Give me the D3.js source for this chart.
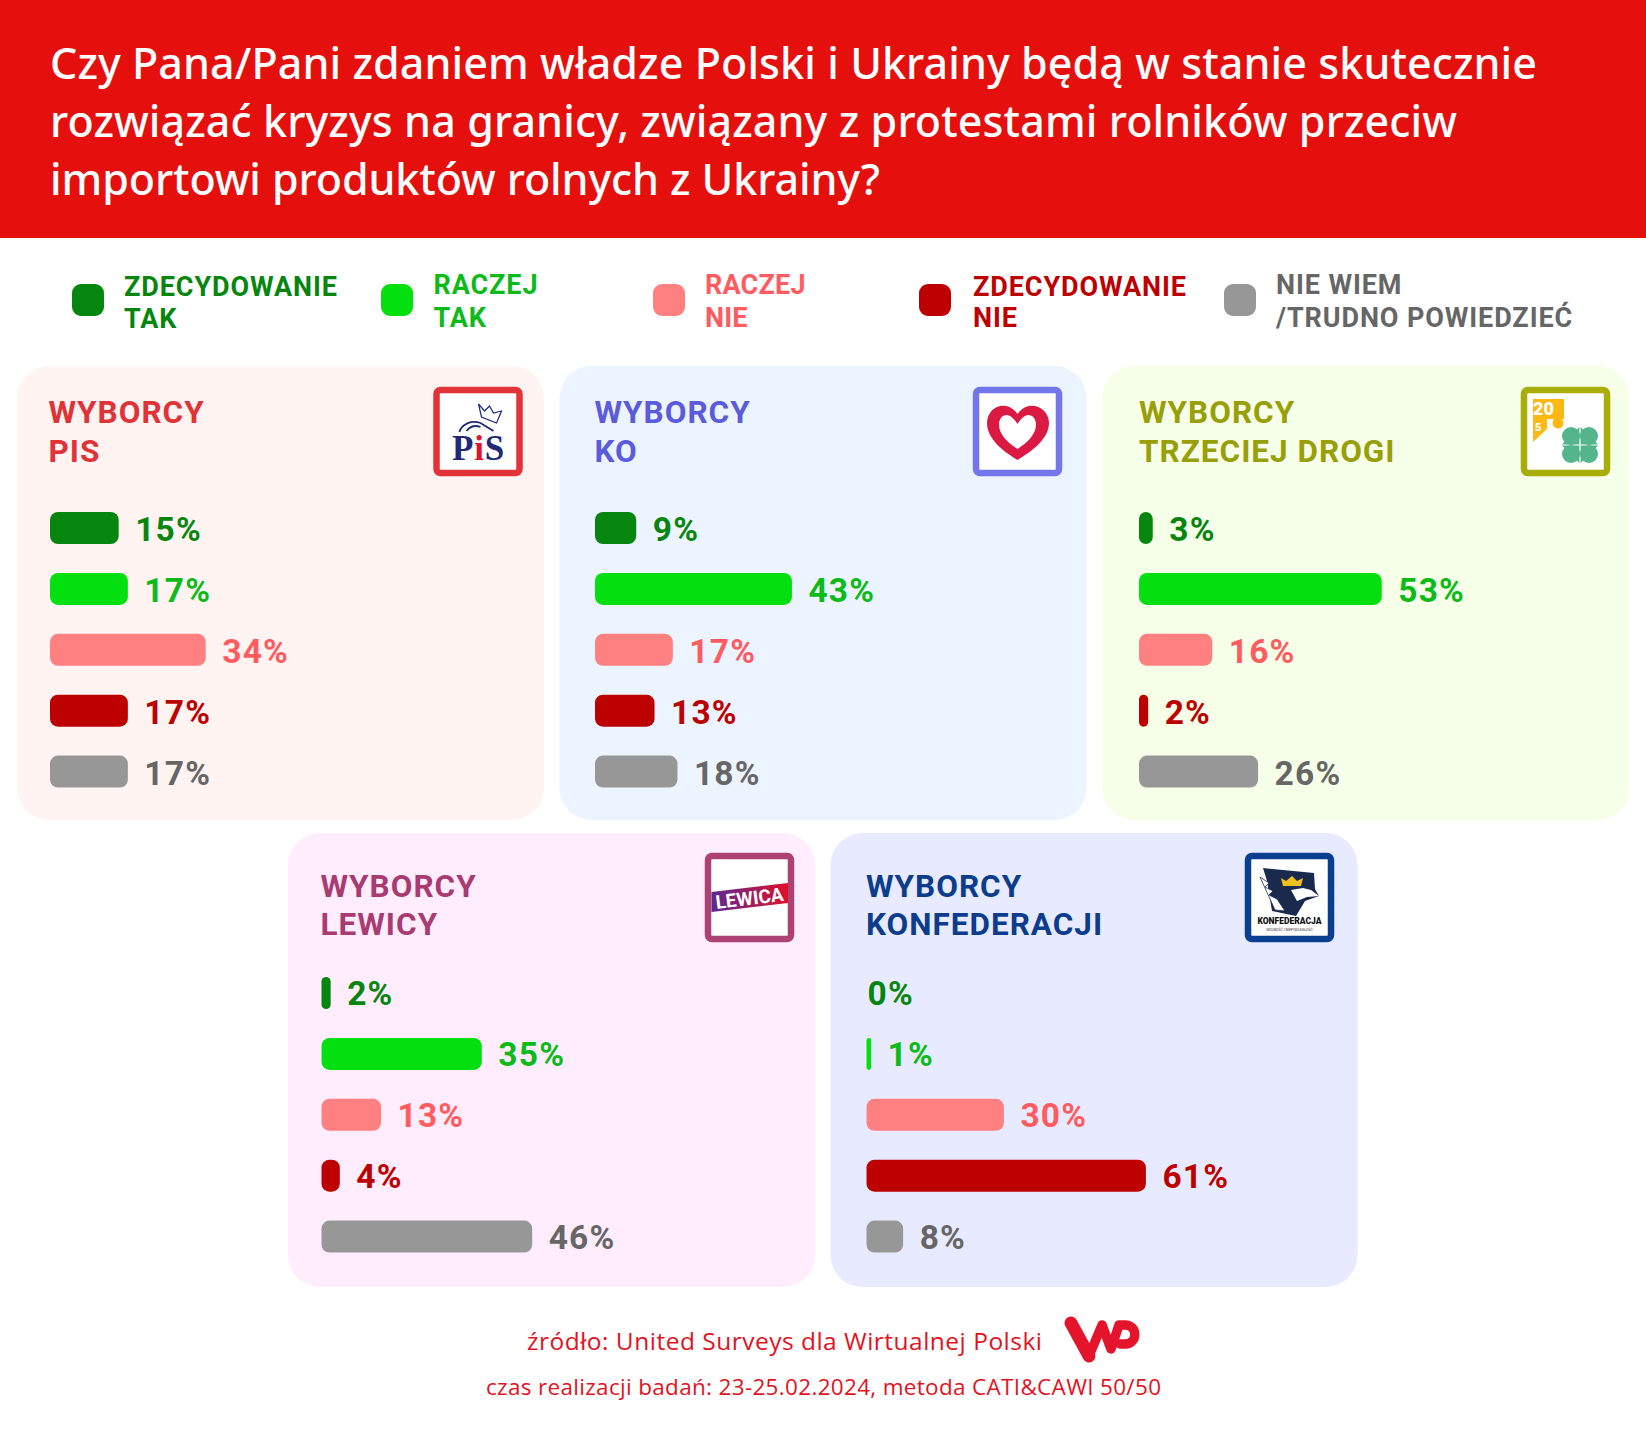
<!DOCTYPE html>
<html lang="pl"><head><meta charset="utf-8">
<script src="https://cdn.jsdelivr.net/npm/d3@7/dist/d3.min.js"></script>
<style>html,body{margin:0;padding:0;background:#fff}svg{display:block}</style>
</head><body><svg id="c" width="1646" height="1440"></svg>
<script>
const titleLines = ["Czy Pana/Pani zdaniem władze Polski i Ukrainy będą w stanie skutecznie",
  "rozwiązać kryzys na granicy, związany z protestami rolników przeciw",
  "importowi produktów rolnych z Ukrainy?"];
const answers = [["ZDECYDOWANIE","TAK"],["RACZEJ","TAK"],["RACZEJ","NIE"],["ZDECYDOWANIE","NIE"],["NIE WIEM","/TRUDNO POWIEDZIEĆ"]];
const barColors = ["#07860f","#04df0f","#ff8080","#bd0000","#979797"];
const textColors = ["#07860f","#0cbb18","#ff5b60","#bd0000","#666666"];
const groups = [["WYBORCY","PIS"],["WYBORCY","KO"],["WYBORCY","TRZECIEJ DROGI"],["WYBORCY","LEWICY"],["WYBORCY","KONFEDERACJI"]];
const valuesPis = [15,17,34,17,17];
const valuesKo = [9,43,17,13,18];
const valuesTd = [3,53,16,2,26];
const valuesLewica = [2,35,13,4,46];
const valuesKonf = [0,1,30,61,8];
const groupValues = [valuesPis,valuesKo,valuesTd,valuesLewica,valuesKonf];
const panelFills = ["#fff4f2","#ecf4ff","#f6ffe8","#ffedfe","#e8ebff"];
const headColors = ["#e03338","#5b5bdc","#989f08","#a83c72","#0c3c8c"];
const frameColors = ["#e23438","#7276ea","#a9ad0a","#ab4273","#0a3f90"];
const sources = ["źródło: United Surveys dla Wirtualnej Polski","czas realizacji badań: 23-25.02.2024, metoda CATI&CAWI 50/50"];

// layout
const panelX = [17,559.5,1102.5,288,830.5], panelY = [366,366,366,833,833];
const panelW = 527, panelH = 454;
const barX = [50,595,1139,321.5,866.5], logoX = [433.5,973,1521,705,1245];
const legendSw = [72,381,653,919,1224], legendTx = [124,433.5,705,973,1276];
const legendBase = [[296,328],[294,326.5],[294,326.5],[295.5,326.5],[294,326.5]];
const x = d3.scaleLinear().domain([0,100]).range([0,458]);
const y = d3.scaleBand().domain(d3.range(5)).range([0,275.6]).paddingInner(0.4745).paddingOuter(0);

const ff="Roboto";
function logoPis(g){
  g.append("path").attr("d","M26 45 C28 37 38 33 47 36 L60 44 M33 44 C37 39 42 38 47 40").attr("fill","none").attr("stroke","#1e2a78").attr("stroke-width",1.8);
  g.append("path").attr("d","M45 17 L51 24 L56 19 L60 26 L68 24 L63 36 L48 30 Z").attr("fill","none").attr("stroke","#1e2a78").attr("stroke-width",1.2);
  const t=g.append("text").attr("x",45).attr("y",73).attr("text-anchor","middle").attr("font-family","'Liberation Serif'").attr("font-weight",700).attr("font-size",35).attr("letter-spacing",0.8);
  t.append("tspan").attr("fill","#1e2a78").text("P");
  t.append("tspan").attr("fill","#e0142c").text("i");
  t.append("tspan").attr("fill","#1e2a78").text("S");
}
function logoKo(g){
  g.append("path").attr("d","M44.5 73 C30 64 14 52 14 36 C14 24 24 17 33 19 C38 20 42 23 44.5 27 C47 23 51 20 56 19 C65 17 76 24 76 36 C76 52 59 64 44.5 73 Z M44.5 62 C54 56 63 47 63 38 C63 32 60 28 55 28 C50 29 47 33 44.5 37 C42 33 39 29 34 28 C29 28 26 32 26 38 C26 47 35 56 44.5 62 Z")
   .attr("fill","#da1a43").attr("fill-rule","evenodd");
}
function logoTd(g){
  g.append("path").attr("d","M12 12 L43 12 L43 32 L26 32 L26 42 L12 55 Z").attr("fill","#fdb813");
  g.append("text").attr("x",12).attr("y",28).attr("font-family",ff).attr("font-weight",900).attr("font-size",18).attr("fill","#fff").text("20");
  g.append("text").attr("x",14).attr("y",44).attr("font-family",ff).attr("font-weight",900).attr("font-size",11).attr("fill","#fff").text("5");
  g.append("circle").attr("cx",37).attr("cy",36).attr("r",5.5).attr("fill","#fdb813");
  const c=g.append("g").attr("fill","#54b48c").attr("transform","translate(59,58)");
  [[-9,-9],[9,-9],[-9,9],[9,9]].forEach(o=>c.append("circle").attr("cx",o[0]).attr("cy",o[1]).attr("r",9));
  c.append("path").attr("d","M-18 -0.6 L-0.6 -18 L-0.6 -0.6 Z M18 -0.6 L0.6 -18 L0.6 -0.6 Z M-18 0.6 L-0.6 18 L-0.6 0.6 Z M18 0.6 L0.6 18 L0.6 0.6 Z");
}
function logoLewica(g){
  const id="lewGrad";
  const gr=g.append("linearGradient").attr("id",id);
  gr.append("stop").attr("offset",0).attr("stop-color","#5a2a90");
  gr.append("stop").attr("offset",1).attr("stop-color","#e0102a");
  g.append("path").attr("d","M6.5 39 L83 30 L83 50 L6.5 59 Z").attr("fill",`url(#${id})`);
  g.append("text").attr("x",44.5).attr("y",52).attr("text-anchor","middle").attr("transform","rotate(-7 44.5 45)").attr("font-family",ff).attr("font-weight",700).attr("font-size",19).attr("fill","#fff").text("LEWICA");
}
function logoKonf(g){
  g.append("path").attr("d","M18 15 L69 20 L70 36 L74 43 L60 48 L51 63 L27 58 L24 40 L22 28 Z").attr("fill","#1a2a4c");
  g.append("path").attr("d","M15 24 L24 30 L20 34 L28 38 L24 42 L32 46 L40 58 L30 57 Z").attr("fill","#fff").attr("stroke","#1a2a4c").attr("stroke-width",0.8);
  g.append("path").attr("d","M46 37 L58 35 L66 37 L74 43 L62 44 L52 48 Z").attr("fill","#fff");
  g.append("path").attr("d","M36 25 L41 28 L47 23 L52 28 L58 25 L56 33 L38 33 Z").attr("fill","#f0c020");
  g.append("text").attr("x",44.5).attr("y",71).attr("text-anchor","middle").attr("font-family",ff).attr("font-weight",900).attr("font-size",8.5).attr("fill","#111").text("KONFEDERACJA");
  g.append("text").attr("x",44.5).attr("y",78).attr("text-anchor","middle").attr("font-family",ff).attr("font-size",3.5).attr("fill","#333").text("WOLNOŚĆ I NIEPODLEGŁOŚĆ");
}
const logos=[logoPis,logoKo,logoTd,logoLewica,logoKonf];

const svg = d3.select("#c");
svg.append("rect").attr("width",1646).attr("height",1440).attr("fill","#fff");
svg.append("rect").attr("width",1646).attr("height",238).attr("fill","#e5100e");

function fit(sel,w){sel.attr("textLength",w).attr("lengthAdjust","spacing");return sel;}
const titleW=[1487,1407,830], titleB=[79,137,195];
titleLines.forEach((t,i)=>fit(svg.append("text").attr("x",50).attr("y",titleB[i]).attr("fill","#fff")
  .attr("font-family","'Noto Sans'").attr("font-weight",500).attr("font-size",43).text(t),titleW[i]));

answers.forEach((a,i)=>{
  svg.append("rect").attr("x",legendSw[i]).attr("y",284).attr("width",32).attr("height",32).attr("rx",9).attr("fill",barColors[i]);
  a.forEach((l,j)=>svg.append("text").attr("x",legendTx[i]).attr("y",legendBase[i][j]).attr("fill",textColors[i])
    .attr("font-family",ff).attr("font-weight",700).attr("font-size",27).attr("letter-spacing",i===2?0.2:0.9).text(l));
});

const heads=[[423,462],[423,462],[423,462],[897,935],[897,935]];
const headX=[48.5,594.5,1139,320.5,866];
groups.forEach((g,i)=>{
  const p=svg.append("g");
  p.append("rect").attr("x",panelX[i]).attr("y",panelY[i]).attr("width",panelW).attr("height",panelH).attr("rx",32).attr("fill",panelFills[i]);
  g.forEach((l,j)=>p.append("text").attr("x",headX[i]).attr("y",heads[i][j]).attr("fill",headColors[i])
    .attr("font-family",ff).attr("font-weight",700).attr("font-size",31.5).attr("letter-spacing",1).text(l));
  const top = panelY[i]+(i<3?146:144);
  const rows=p.selectAll("g.r").data(groupValues[i]).join("g").attr("class","r").attr("transform",(d,k)=>`translate(${barX[i]},${top+y(k)})`);
  rows.append("rect").attr("width",d=>x(d)).attr("height",y.bandwidth())
    .attr("rx",d=>Math.min(8,x(d)/2)).attr("fill",(d,k)=>barColors[k]);
  rows.append("text").attr("x",d=>d===0?1:x(d)+16.5).attr("y",y.bandwidth()-(i<3?3:4)).attr("fill",(d,k)=>textColors[k])
    .attr("font-family",ff).attr("font-weight",700).attr("font-size",33.5).attr("letter-spacing",1.2).text(d=>d+"%");
  const lg=p.append("g").attr("transform",`translate(${logoX[i]},${panelY[i]+(i<3?21:20)})`);
  lg.append("rect").attr("x",3).attr("y",3).attr("width",83).attr("height",83).attr("rx",4).attr("fill","#fff").attr("stroke",frameColors[i]).attr("stroke-width",6.5);
  logos[i](lg);
});

const srcX=[527,486], srcW=[515,675], srcB=[1350,1395];
sources.forEach((t,i)=>fit(svg.append("text").attr("x",srcX[i]).attr("y",srcB[i]).attr("fill","#e3121f")
  .attr("font-family","'Open Sans'").attr("font-weight",400).attr("font-size",i?22.5:24.5).text(t),srcW[i]));

// WP mark
const wp=svg.append("g").attr("fill","none").attr("stroke","#e3142c").attr("stroke-linecap","round").attr("stroke-linejoin","round");
wp.append("path").attr("d","M1071 1323 L1089 1356").attr("stroke-width",13);
wp.append("path").attr("d","M1089 1356 L1102 1325 L1111 1349 L1119 1325 L1125 1325 C1138 1325 1138 1344 1125 1344 L1120 1344").attr("stroke-width",9.5);
</script>
</body></html>
